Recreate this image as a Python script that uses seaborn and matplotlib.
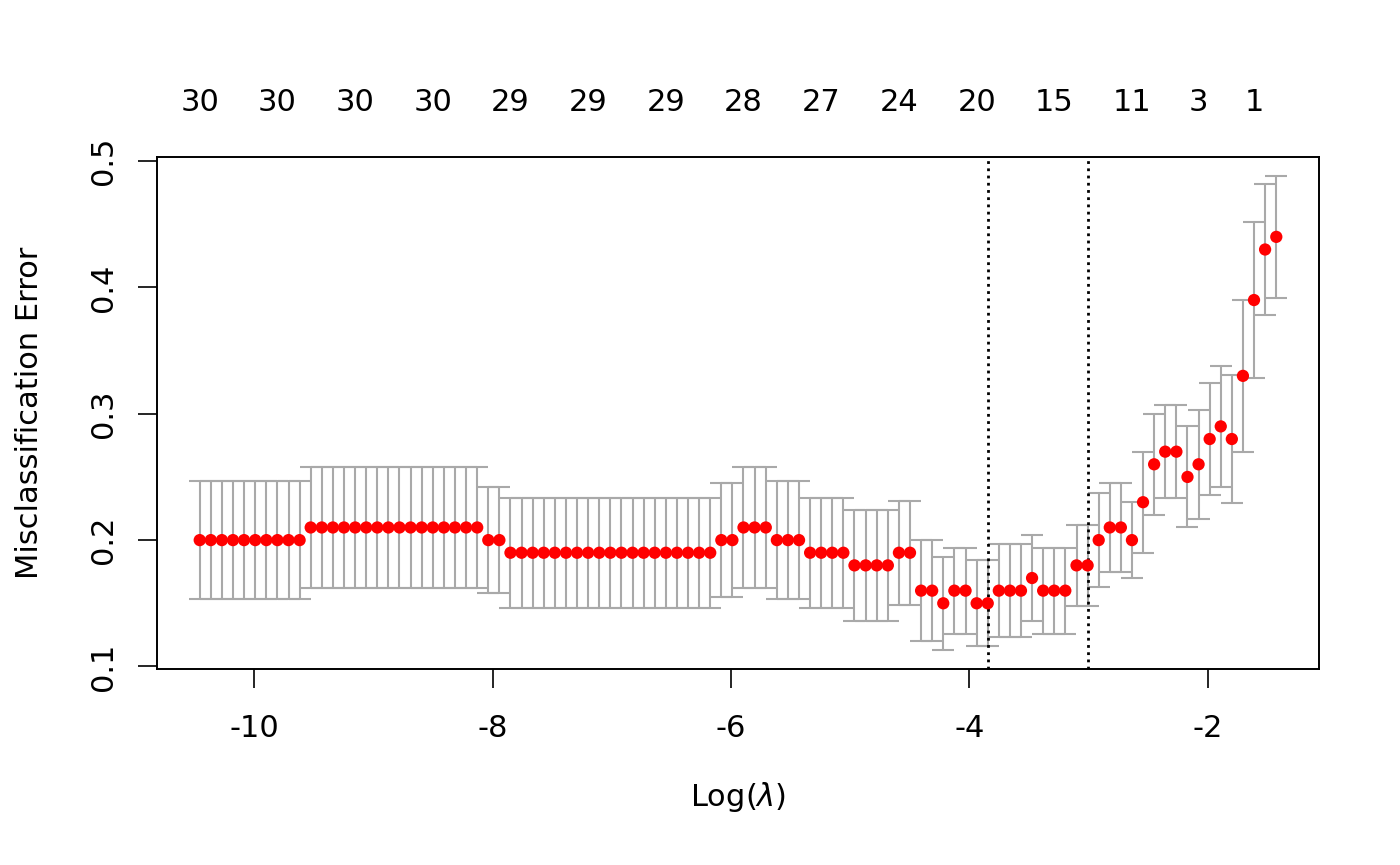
import numpy as np
import pandas as pd
import seaborn as sns
import matplotlib
matplotlib.use("Agg")
import matplotlib.pyplot as plt
import matplotlib.transforms as mtransforms

# log(lambda) de cada punto del camino
log_lambda = [
    -10.458, -10.365, -10.272, -10.179, -10.086, -9.992, -9.899, -9.806, -9.713, -9.620,
    -9.527, -9.434, -9.341, -9.248, -9.154, -9.061, -8.968, -8.875, -8.782, -8.689,
    -8.596, -8.503, -8.410, -8.317, -8.223, -8.130, -8.037, -7.944, -7.851, -7.758,
    -7.665, -7.572, -7.479, -7.385, -7.292, -7.199, -7.106, -7.013, -6.920, -6.827,
    -6.734, -6.641, -6.547, -6.454, -6.361, -6.268, -6.175, -6.082, -5.989, -5.896,
    -5.803, -5.709, -5.616, -5.523, -5.430, -5.337, -5.244, -5.151, -5.058, -4.965,
    -4.871, -4.778, -4.685, -4.592, -4.499, -4.406, -4.313, -4.220, -4.127, -4.033,
    -3.940, -3.847, -3.754, -3.661, -3.568, -3.475, -3.382, -3.289, -3.196, -3.102,
    -3.009, -2.916, -2.823, -2.730, -2.637, -2.544, -2.451, -2.358, -2.264, -2.171,
    -2.078, -1.985, -1.892, -1.799, -1.706, -1.613, -1.520, -1.426,
]

# error de clasificación medio (cvm)
cvm = [
    0.20, 0.20, 0.20, 0.20, 0.20, 0.20, 0.20, 0.20, 0.20, 0.20,
    0.21, 0.21, 0.21, 0.21, 0.21, 0.21, 0.21, 0.21, 0.21, 0.21,
    0.21, 0.21, 0.21, 0.21, 0.21, 0.21, 0.20, 0.20, 0.19, 0.19,
    0.19, 0.19, 0.19, 0.19, 0.19, 0.19, 0.19, 0.19, 0.19, 0.19,
    0.19, 0.19, 0.19, 0.19, 0.19, 0.19, 0.19, 0.20, 0.20, 0.21,
    0.21, 0.21, 0.20, 0.20, 0.20, 0.19, 0.19, 0.19, 0.19, 0.18,
    0.18, 0.18, 0.18, 0.19, 0.19, 0.16, 0.16, 0.15, 0.16, 0.16,
    0.15, 0.15, 0.16, 0.16, 0.16, 0.17, 0.16, 0.16, 0.16, 0.18,
    0.18, 0.20, 0.21, 0.21, 0.20, 0.23, 0.26, 0.27, 0.27, 0.25,
    0.26, 0.28, 0.29, 0.28, 0.33, 0.39, 0.43, 0.44,
]

# desviación estándar (cvsd)
cvsd = [
    0.047, 0.047, 0.047, 0.047, 0.047, 0.047, 0.047, 0.047, 0.047, 0.047,
    0.048, 0.048, 0.048, 0.048, 0.048, 0.048, 0.048, 0.048, 0.048, 0.048,
    0.048, 0.048, 0.048, 0.048, 0.048, 0.048, 0.042, 0.042, 0.0435, 0.0435,
    0.0435, 0.0435, 0.0435, 0.0435, 0.0435, 0.0435, 0.0435, 0.0435, 0.0435, 0.0435,
    0.0435, 0.0435, 0.0435, 0.0435, 0.0435, 0.0435, 0.0435, 0.045, 0.045, 0.048,
    0.048, 0.048, 0.047, 0.047, 0.047, 0.0435, 0.0435, 0.0435, 0.0435, 0.044,
    0.044, 0.044, 0.044, 0.041, 0.041, 0.040, 0.040, 0.037, 0.034, 0.034,
    0.034, 0.034, 0.037, 0.037, 0.037, 0.034, 0.034, 0.034, 0.034, 0.032,
    0.032, 0.037, 0.035, 0.035, 0.030, 0.040, 0.040, 0.037, 0.037, 0.040,
    0.043, 0.044, 0.048, 0.051, 0.060, 0.062, 0.052, 0.048,
]

# número de coeficientes no nulos (eje superior)
nzero_idx = [0, 7, 14, 21, 28, 35, 42, 49, 56, 63, 70, 77, 84, 90, 95]
nzero_labels = ["30", "30", "30", "30", "29", "29", "29", "28", "27", "24", "20", "15", "11", "3", "1"]

idx_min = 71   # lambda.min
idx_1se = 80   # lambda.1se

df = pd.DataFrame({"log_lambda": log_lambda, "cvm": cvm, "cvsd": cvsd})

sns.set_style("ticks")
plt.rcParams["font.family"] = ["DejaVu Sans"]
plt.rcParams["mathtext.fontset"] = "dejavusans"
plt.rcParams["axes.unicode_minus"] = False
plt.rcParams["text.color"] = "black"
plt.rcParams["axes.labelcolor"] = "black"
plt.rcParams["xtick.color"] = "black"
plt.rcParams["ytick.color"] = "black"

fig = plt.figure(figsize=(14, 8.65), dpi=100)
ax = fig.add_axes([0.1119, 0.2266, 0.8305, 0.5916])

# barras de error
ax.errorbar(df["log_lambda"], df["cvm"], yerr=df["cvsd"], fmt="none",
            ecolor="#a9a9a9", elinewidth=1.5, capsize=8, capthick=1.5, zorder=1)

# puntos
sns.scatterplot(data=df, x="log_lambda", y="cvm", ax=ax, color="red",
                s=78, edgecolor="none", zorder=3)

# líneas verticales en lambda.min y lambda.1se
for i in (idx_min, idx_1se):
    ax.axvline(log_lambda[i], color="black", linestyle=(0, (1, 1.6)), lw=2, zorder=2)

# márgenes tipo R (4 %)
xr = max(log_lambda) - min(log_lambda)
ax.set_xlim(min(log_lambda) - 0.04 * xr, max(log_lambda) + 0.04 * xr)
lo = min(np.array(cvm) - np.array(cvsd))
hi = max(np.array(cvm) + np.array(cvsd))
ax.set_ylim(lo - 0.04 * (hi - lo), hi + 0.04 * (hi - lo))

ax.set_xticks([-10, -8, -6, -4, -2])
ax.set_yticks([0.1, 0.2, 0.3, 0.4, 0.5])
ax.set_yticklabels(["0.1", "0.2", "0.3", "0.4", "0.5"])
ax.tick_params(axis="both", length=13.5, width=1.2, labelsize=22, color="black",
               labelcolor="black")
ax.tick_params(axis="x", pad=19)
ax.tick_params(axis="y", pad=14)
plt.setp(ax.get_yticklabels(), rotation=90, va="center")
for s in ax.spines.values():
    s.set_linewidth(1.4)
    s.set_color("black")

ax.set_xlabel("Log($\\lambda$)", fontsize=22)
ax.set_ylabel("Misclassification Error", fontsize=22)
ax.xaxis.set_label_coords(0.5, -0.216)
ax.yaxis.set_label_coords(-0.097, 0.5)

# etiquetas superiores
trans = mtransforms.blended_transform_factory(ax.transData, ax.transAxes)
for i, lab in zip(nzero_idx, nzero_labels):
    ax.text(log_lambda[i], 1.09, lab, transform=trans, ha="center", va="baseline",
            fontsize=22, color="black")

fig.savefig("out.png", dpi=100)
